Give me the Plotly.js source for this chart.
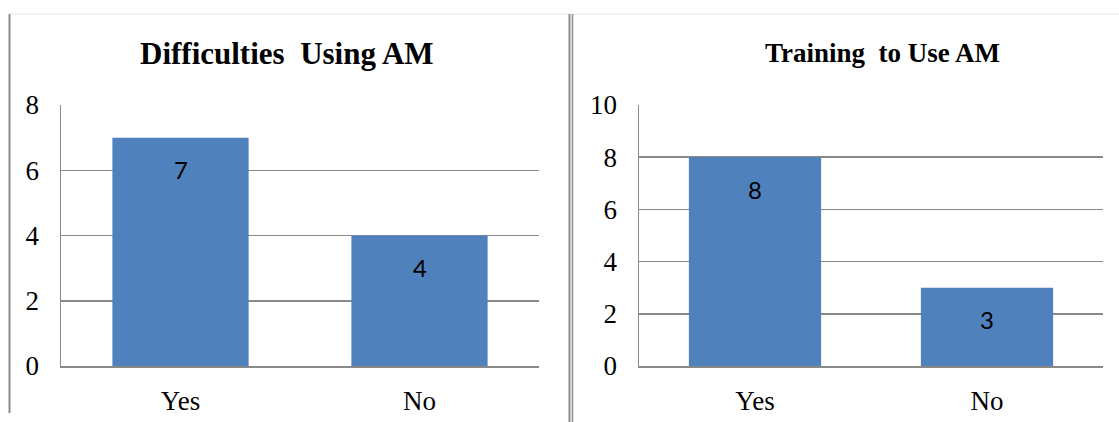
<!DOCTYPE html>
<html>
<head>
<meta charset="utf-8">
<script src="https://cdn.plot.ly/plotly-3.0.1.min.js"></script>
<style>html,body{margin:0;padding:0;background:#fff;}#chart{width:1119px;height:422px;}</style>
</head>
<body>
<div id="chart"></div>
<script>
const categories = ["Yes", "No"];
const difficultiesValues = [7, 4];
const trainingValues = [8, 3];
const titles = ["Difficulties  Using AM", "Training  to Use AM"];
const leftTicks = [0, 2, 4, 6, 8];
const rightTicks = [0, 2, 4, 6, 8, 10];

const W = 1119, H = 422;
const px = v => v / W;
const py = v => 1 - v / H;

const barColor = "#4F81BD";
const gridColor = "#898989";
const serif = "Liberation Serif, Times New Roman, serif";

const traces = [
  {type: "bar", x: categories, y: difficultiesValues, xaxis: "x", yaxis: "y",
   marker: {color: barColor}, hoverinfo: "none"},
  {type: "bar", x: categories, y: trainingValues, xaxis: "x2", yaxis: "y2",
   marker: {color: barColor}, hoverinfo: "none"}
];

function yax(range, ticks, anchor) {
  return {domain: [py(366), py(105)], range: range, tickvals: ticks,
    ticktext: ticks.map(String), showgrid: true, gridcolor: gridColor, gridwidth: 1.5,
    showline: true, linecolor: gridColor, linewidth: 1.5, zeroline: false,
    ticks: "", ticklabelstandoff: 15, anchor: anchor, fixedrange: true,
    tickfont: {family: serif, size: 27, color: "#000"}};
}
function xax(domain, anchor) {
  return {domain: domain, anchor: anchor, showline: true, linecolor: gridColor, linewidth: 1.5,
    ticks: "", ticklabelstandoff: 10, showgrid: false, fixedrange: true,
    tickfont: {family: serif, size: 27, color: "#000"}};
}

const annotations = [];
categories.forEach((c, i) => {
  annotations.push({xref: "x", yref: "y", x: c, y: difficultiesValues[i], yshift: -32,
    text: String(difficultiesValues[i]), showarrow: false,
    font: {family: "Lato, Carlito, Calibri, sans-serif", size: 24, color: "#000"}});
  annotations.push({xref: "x2", yref: "y2", x: c, y: trainingValues[i], yshift: -32,
    text: String(trainingValues[i]), showarrow: false,
    font: {family: "Lato, Carlito, Calibri, sans-serif", size: 24, color: "#000"}});
});
annotations.push({xref: "paper", yref: "paper", x: px(287), y: py(53), xanchor: "center", yanchor: "middle",
  text: "<b>" + titles[0] + "</b>", showarrow: false, font: {family: serif, size: 31, color: "#000"}});
annotations.push({xref: "paper", yref: "paper", x: px(882), y: py(53), xanchor: "center", yanchor: "middle",
  text: "<b>" + titles[1] + "</b>", showarrow: false, font: {family: serif, size: 27, color: "#000"}});

const shapes = [
  {type: "line", xref: "paper", yref: "paper", x0: px(9), x1: 1, y0: py(14), y1: py(14),
   line: {color: "#e6e6e6", width: 1}},
  {type: "line", xref: "paper", yref: "paper", x0: px(9.5), x1: px(9.5), y0: py(14), y1: py(413),
   line: {color: "#8c8c8c", width: 2}},
  {type: "line", xref: "paper", yref: "paper", x0: px(569.5), x1: px(569.5), y0: py(14), y1: 0,
   line: {color: "#8c8c8c", width: 2}},
  {type: "line", xref: "paper", yref: "paper", x0: px(572.5), x1: px(572.5), y0: py(14), y1: 0,
   line: {color: "#8c8c8c", width: 1.5}}
];

const layout = {
  width: W, height: H, margin: {l: 0, r: 0, t: 0, b: 0},
  paper_bgcolor: "#fff", plot_bgcolor: "#fff", showlegend: false, bargap: 0.43,
  xaxis: xax([px(61), px(539)], "y"),
  yaxis: yax([0, 8], leftTicks, "x"),
  xaxis2: xax([px(639), px(1103)], "y2"),
  yaxis2: yax([0, 10], rightTicks, "x2"),
  annotations: annotations, shapes: shapes
};

Plotly.newPlot("chart", traces, layout, {displayModeBar: false, staticPlot: true});
</script>
</body>
</html>
